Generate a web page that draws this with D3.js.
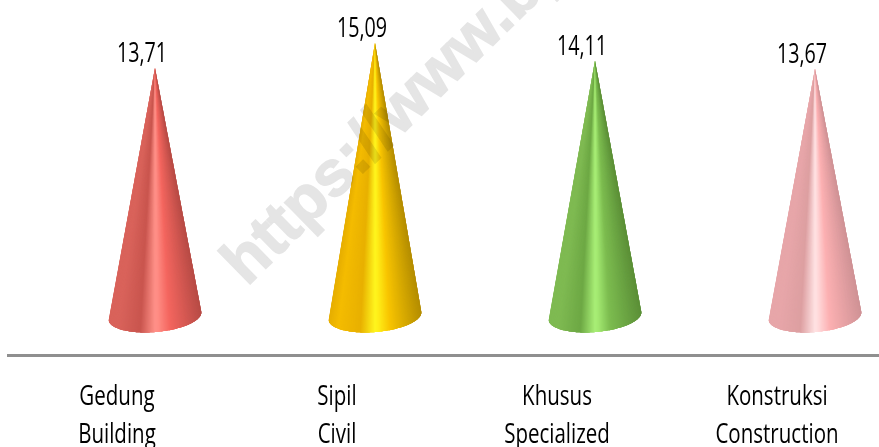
<!DOCTYPE html>
<html lang="en">
<head>
    <meta charset="utf-8">
    <script src="https://d3js.org/d3.v7.min.js"></script>
    <style>
        html, body { margin: 0; padding: 0; background: #fff; overflow: hidden; }
        text { font-family: "Open Sans", "Noto Sans", sans-serif; fill: #000; }
    </style>
</head>
<body>
<script>
    var categories = ["Gedung", "Sipil", "Khusus", "Konstruksi"];
    var categoriesEn = ["Building", "Civil", "Specialized", "Construction"];
    var values = [13.71, 15.09, 14.11, 13.67];

    // shading across each cone, left edge to right edge
    var shadeStops = [0, 0.1, 0.34, 0.5, 0.53, 0.66, 1];
    var palette = [
        ["#d9635b", "#d9635b", "#c9554e", "#ff9088", "#ff8d85", "#f4665f", "#b84c46"],
        ["#e6ae00", "#f4bc00", "#e8b000", "#fff51e", "#fff01a", "#f8c400", "#b58e00"],
        ["#7fba52", "#7fba52", "#6da844", "#a8ee76", "#a4ea72", "#7dbd50", "#5c9038"],
        ["#e7a6a9", "#e7a6a9", "#dd9fa1", "#ffe2e3", "#ffdcdd", "#fcb0b2", "#d09396"]
    ];

    var width = 879,
        height = 447,
        baseY = 316,
        rx = 46.5,
        ry = 16,
        tilt = -5 * Math.PI / 180,
        nSlices = 120;

    var svg = d3.select("body")
        .append("svg")
        .attr("width", width)
        .attr("height", height)
        .style("display", "block");

    var x = d3.scaleBand()
        .domain(categories)
        .range([45, 925]);

    var y = d3.scaleLinear()
        .domain([0, 15.09])
        .range([baseY, 43]);

    var cx = function (d) { return x(d) + x.bandwidth() / 2; };

    // point on the front rim of the base, t runs 0 (left) to 1 (right)
    function rim(c, t) {
        var a = Math.PI * (1 - t);
        return [
            c + rx * Math.cos(a) * Math.cos(tilt) - ry * Math.sin(a) * Math.sin(tilt),
            baseY + rx * Math.cos(a) * Math.sin(tilt) + ry * Math.sin(a) * Math.cos(tilt)
        ];
    }

    var g = svg.selectAll("g.cone")
        .data(categories)
        .enter()
        .append("g")
        .attr("class", "cone");

    // the shading has to converge at the tip, so each cone is a fan of thin slices.
    // every slice runs on under the next one so no seams show
    g.each(function (d, i) {
        var c = cx(d);
        var shade = d3.scaleLinear().domain(shadeStops).range(palette[i]);
        d3.select(this).selectAll("path")
            .data(d3.range(nSlices))
            .enter()
            .append("path")
            .attr("d", function (k) {
                var rimPts = d3.range(k, Math.min(k + 4, nSlices) + 1).map(function (j) {
                    return rim(c, j / nSlices);
                });
                return "M" + c + "," + y(values[i]) + "L" + rimPts.join("L") + "Z";
            })
            .attr("fill", function (k) {
                var p = rim(c, (k + 0.5) / nSlices);
                return shade((p[0] - (c - rx)) / (2 * rx));
            });
    });

    g.append("text")
        .attr("text-anchor", "middle")
        .attr("font-size", 27)
        .attr("transform", function (d, i) {
            return "translate(" + (cx(d) - 13) + "," + (y(values[i]) - 6) + ") scale(.73,1)";
        })
        .text(function (d, i) { return String(values[i]).replace(".", ","); });

    svg.append("line")
        .attr("x1", 7)
        .attr("x2", width)
        .attr("y1", 355.5)
        .attr("y2", 355.5)
        .attr("stroke", "#8f8f8f")
        .attr("stroke-width", 3);

    g.append("text")
        .attr("text-anchor", "middle")
        .attr("font-size", 27)
        .attr("transform", function (d) { return "translate(" + (cx(d) - 38) + ",405) scale(.76,1)"; })
        .text(function (d) { return d; });

    g.append("text")
        .attr("text-anchor", "middle")
        .attr("font-size", 27)
        .attr("transform", function (d) { return "translate(" + (cx(d) - 38) + ",443) scale(.76,1)"; })
        .text(function (d, i) { return categoriesEn[i]; });

    svg.append("text")
        .attr("transform", "translate(247,287) rotate(-44.5)")
        .attr("font-size", 64)
        .attr("font-weight", "bold")
        .style("font-family", "'Liberation Sans', sans-serif")
        .style("fill", "#e5e5e5")
        .style("stroke", "#e5e5e5")
        .style("stroke-width", 1.5)
        .style("mix-blend-mode", "multiply")
        .text("https://www.bps.go.id");
</script>
</body>
</html>
